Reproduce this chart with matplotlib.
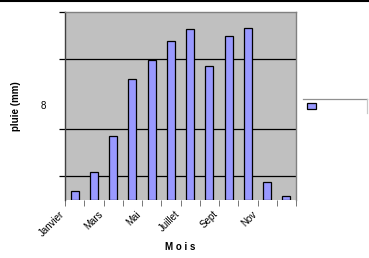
import matplotlib
matplotlib.use("Agg")
import matplotlib.pyplot as plt
from matplotlib.lines import Line2D
from matplotlib.patches import Rectangle
import matplotlib.transforms as mtransforms
import numpy as np

months = ["Janvier", "Fév", "Mars", "Avr", "Mai", "Juin", "Juillet", "Août",
          "Sept", "Oct", "Nov", "Déc"]
shown_labels = ["Janvier", "Mars", "Mai", "Juillet", "Sept", "Nov"]
rain = [9, 28, 64, 121, 140, 159, 171, 134, 164, 172, 18, 4]
grid_levels = [24, 71, 141, 188]
y_max = 188

W, H = 369, 258
fig = plt.figure(figsize=(W / 100, H / 100), dpi=100)
fig.patch.set_facecolor("white")

def fx(px):
    return px / W

def fy(py):
    return 1 - py / H

ax = fig.add_axes([fx(65), fy(200), fx(296) - fx(65), fy(12) - fy(200)])
ax.set_facecolor("#C0C0C0")
x = np.arange(len(rain))
ax.set_xlim(-0.5, len(rain) - 0.5)
ax.set_ylim(0, y_max)

for g in grid_levels[:-1]:
    ax.axhline(g, color="black", lw=0.9, zorder=1)

ax.bar(x, rain, width=0.42, color="#9999FF", edgecolor="black", linewidth=0.9, zorder=3)

for s in ["top", "right"]:
    ax.spines[s].set_color("#808080")
    ax.spines[s].set_linewidth(1.0)
ax.spines["left"].set_color("#404040")
ax.spines["left"].set_linewidth(1.0)
ax.spines["bottom"].set_visible(False)

ax.set_yticks(grid_levels)
ax.set_yticklabels([])
ax.tick_params(axis="y", length=4, width=0.9, color="black", direction="out")
ax.set_xticks(np.arange(-0.5, len(rain), 1.0))
ax.set_xticklabels([])
ax.tick_params(axis="x", length=4, width=0.6, color="#606060", direction="out")

trans = ax.get_xaxis_transform()
for i, lab in enumerate(months):
    if lab in shown_labels:
        off = mtransforms.offset_copy(trans, fig=fig, x=-6, y=-9, units="dots")
        ax.text(i - 0.5, 0, lab, transform=off, rotation=45, ha="right", va="top",
                rotation_mode="anchor", fontsize=7, family="Liberation Sans")

fig.text(fx(180), fy(247), "M o i s", ha="center", va="center", fontsize=7,
         fontweight="bold", family="Liberation Sans")
fig.text(fx(16), fy(106), "pluie (mm)", ha="center", va="center", rotation=90,
         fontsize=7, fontweight="bold", family="Liberation Sans")
fig.text(fx(43), fy(106), "8", ha="center", va="center", fontsize=7,
         family="Liberation Sans")

# top border line of the figure
fig.add_artist(Line2D([0, 1], [fy(1), fy(1)], transform=fig.transFigure,
                      color="black", lw=1.5))
# legend fragments
fig.add_artist(Line2D([fx(303), fx(367)], [fy(99), fy(99)], transform=fig.transFigure,
                      color="#909090", lw=0.9))
fig.add_artist(Line2D([fx(367), fx(367)], [fy(99), fy(113)], transform=fig.transFigure,
                      color="#C8C8C8", lw=0.9))
fig.add_artist(Rectangle((fx(307), fy(109)), fx(316) - fx(307), fy(103) - fy(109),
                         transform=fig.transFigure, facecolor="#9999FF",
                         edgecolor="black", lw=0.9))

fig.savefig("out.png", dpi=100)
